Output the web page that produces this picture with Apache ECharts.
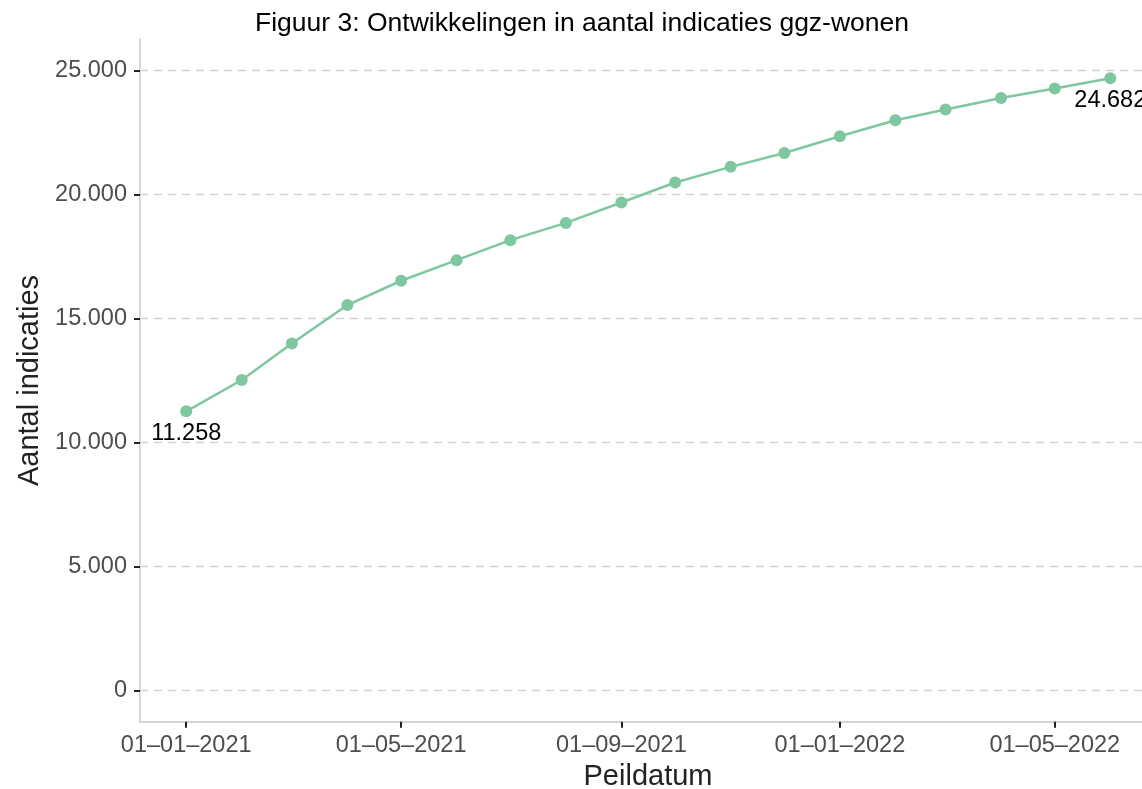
<!DOCTYPE html>
<html>
<head>
<meta charset="utf-8">
<script src="https://cdn.jsdelivr.net/npm/echarts@6/dist/echarts.min.js"></script>
<style>
html,body{margin:0;padding:0;background:#fff;overflow:hidden;}
#chart{width:1142px;height:789px;}
</style>
</head>
<body>
<div id="chart"></div>
<script>
const dates = ['2021-01-01','2021-02-01','2021-03-01','2021-04-01','2021-05-01','2021-06-01',
  '2021-07-01','2021-08-01','2021-09-01','2021-10-01','2021-11-01','2021-12-01',
  '2022-01-01','2022-02-01','2022-03-01','2022-04-01','2022-05-01','2022-06-01'];
const values = [11258, 12520, 13990, 15540, 16520, 17350, 18155, 18850, 19675, 20480,
  21110, 21670, 22345, 22985, 23420, 23885, 24265, 24682];
const xTickDates = ['2021-01-01','2021-05-01','2021-09-01','2022-01-01','2022-05-01'];
const xTickLabels = ['01\u201301\u20132021','01\u201305\u20132021','01\u201309\u20132021','01\u201301\u20132022','01\u201305\u20132022'];
const yTickValues = [0, 5000, 10000, 15000, 20000, 25000];
const yTickLabels = ['0','5.000','10.000','15.000','20.000','25.000'];
const labelTexts = {0: '11.258', 17: '24.682'};

const DAY = 86400000;
function toDay(s){ const p = s.split('-').map(Number); return Math.round(Date.UTC(p[0], p[1]-1, p[2]) / DAY); }
const xTickDays = xTickDates.map(toDay);
const t0 = toDay(dates[0]), t1 = toDay(dates[dates.length-1]);
const padX = (t1 - t0) * 0.05;
const xMin = t0 - padX;
// the original panel runs ~14.5px past the right edge of the picture (1016.5px wide, 1002px visible)
const xMax = xMin + (t1 + padX - xMin) * 1002 / 1016.5;

const FONT = 'Liberation Sans, Arial, sans-serif';
const chart = echarts.init(document.getElementById('chart'), null, {renderer:'canvas'});
const seriesData = dates.map((d,i) => {
  const item = {value: [toDay(d), values[i]]};
  if (labelTexts[i] !== undefined) {
    item.label = {show: true, position: 'bottom', distance: 4, formatter: labelTexts[i],
      fontSize: 23.5, color: '#000', fontFamily: FONT};
  }
  return item;
});
chart.setOption({
  animation: false,
  backgroundColor: '#fff',
  title: {
    text: 'Figuur 3: Ontwikkelingen in aantal indicaties ggz-wonen',
    left: 250, top: 5,
    textStyle: {fontSize: 26.5, fontWeight: 'normal', color: '#000', fontFamily: FONT}
  },
  grid: {left: 140, right: 0, top: 39.3, bottom: 67.3, containLabel: false, outerBoundsMode: 'none'},
  xAxis: {
    type: 'value',
    min: xMin, max: xMax,
    name: 'Peildatum', nameLocation: 'middle', nameGap: 39,
    nameTextStyle: {fontSize: 29, color: '#222', fontFamily: FONT, padding: [0, 0, 0, 14]},
    axisLine: {show: true, onZero: false, lineStyle: {color: '#d6d6d6', width: 2}},
    axisTick: {show: true, length: 6, customValues: xTickDays, lineStyle: {color: '#222', width: 2}},
    axisLabel: {customValues: xTickDays, margin: 12, fontSize: 23.5, color: '#4d4d4d', fontFamily: FONT,
      formatter: v => { const i = xTickDays.indexOf(v); return i >= 0 ? xTickLabels[i] : ''; }},
    splitLine: {show: false}
  },
  yAxis: {
    type: 'value',
    min: -1250, max: 26250,
    name: 'Aantal indicaties', nameLocation: 'middle', nameGap: 87, nameRotate: 90,
    nameTextStyle: {fontSize: 29, color: '#222', fontFamily: FONT},
    axisLine: {show: true, onZero: false, lineStyle: {color: '#d6d6d6', width: 2}},
    axisTick: {show: true, length: 6, customValues: yTickValues, lineStyle: {color: '#222', width: 2}},
    axisLabel: {customValues: yTickValues, margin: 13, fontSize: 23.5, color: '#4d4d4d', fontFamily: FONT,
      padding: [4, 0, 0, 0],
      formatter: v => { const i = yTickValues.indexOf(v); return i >= 0 ? yTickLabels[i] : ''; }},
    splitLine: {show: true, lineStyle: {color: '#d4d4d4', width: 1.3, type: [8, 6]}}
  },
  series: [{
    type: 'line',
    data: seriesData,
    symbol: 'circle', symbolSize: 12,
    lineStyle: {color: '#7fc7a0', width: 2.5},
    itemStyle: {color: '#7fc7a0'},
    clip: false,
    z: 3
  }]
});
</script>
</body>
</html>
